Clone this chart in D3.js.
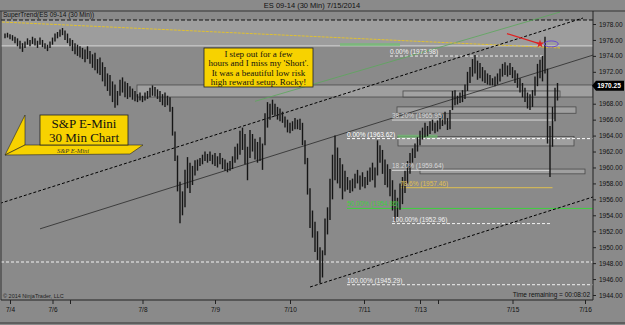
<!DOCTYPE html>
<html><head><meta charset="utf-8">
<script src="https://cdn.jsdelivr.net/npm/d3@7"></script>
<style>body{margin:0;background:#8a8a8a;} svg{display:block;font-family:"Liberation Sans",Arial,sans-serif;}</style>
</head><body><svg id="c" width="625" height="325"></svg>
<script>
// ---- data (30-min bars, [high, low]) ----
const bars = [
[1976.8,1976.2],[1976.9,1976.3],[1976.7,1976.1],[1976.6,1975.9],[1976.4,1975.6],[1976.2,1975.2],[1975.9,1974.9],[1975.6,1974.5],
[1975.8,1975.0],[1976.2,1975.4],[1976.0,1975.2],[1976.4,1975.5],[1976.2,1975.3],[1975.9,1975.0],[1976.3,1975.4],[1976.0,1975.1],
[1975.6,1974.9],[1975.4,1974.6],[1975.8,1975.0],[1976.3,1975.4],[1976.8,1975.8],[1977.0,1976.2],[1977.3,1976.4],[1977.5,1976.6],
[1977.2,1976.0],[1976.8,1975.6],[1976.2,1975.2],[1976.0,1974.6],[1975.6,1974.2],[1975.4,1974.0],[1975.2,1973.8],[1975.0,1973.6],
[1974.8,1973.2],[1975.2,1973.6],[1974.6,1973.0],[1974.2,1972.5],[1974.4,1972.2],[1973.6,1971.8],[1973.8,1971.6],[1973.2,1970.8],
[1972.6,1970.2],[1971.8,1969.6],[1971.6,1969.0],[1970.8,1968.2],[1970.4,1967.5],[1969.6,1967.8],[1971.0,1969.0],[1971.3,1969.4],
[1970.8,1968.8],[1970.6,1968.6],[1970.2,1968.8],[1969.9,1968.5],[1969.6,1968.3],[1969.2,1968.2],[1969.4,1968.4],[1969.0,1968.2],
[1969.4,1968.4],[1969.6,1968.6],[1970.0,1968.8],[1970.3,1969.0],[1970.1,1968.9],[1969.8,1968.6],[1969.6,1968.2],[1969.2,1967.8],
[1969.4,1967.6],[1969.0,1967.8],[1968.8,1967.0],[1967.6,1964.0],[1964.5,1960.8],[1961.5,1957.0],[1958.2,1953.0],[1957.0,1954.0],
[1959.7,1955.0],[1961.3,1957.4],[1960.6,1956.8],[1960.2,1957.8],[1960.9,1959.0],[1961.0,1959.6],[1961.2,1960.2],[1961.6,1960.4],
[1962.0,1960.8],[1961.7,1960.6],[1962.0,1960.8],[1961.6,1960.4],[1961.8,1960.2],[1961.4,1960.0],[1961.8,1960.4],[1961.2,1959.8],
[1961.0,1959.6],[1960.6,1959.4],[1960.8,1959.6],[1961.4,1959.8],[1962.6,1960.6],[1963.0,1961.0],[1964.6,1961.6],[1965.0,1962.2],
[1964.2,1960.4],[1962.6,1958.4],[1964.7,1961.2],[1964.2,1962.0],[1963.6,1961.0],[1963.2,1960.6],[1963.8,1960.8],[1963.0,1959.7],
[1966.8,1962.8],[1968.2,1965.0],[1968.0,1966.0],[1968.5,1966.6],[1968.0,1966.4],[1967.6,1966.0],[1967.4,1965.8],[1967.0,1965.6],
[1966.4,1965.0],[1966.0,1964.4],[1965.6,1964.3],[1965.8,1964.6],[1966.2,1964.8],[1966.0,1964.8],[1966.1,1964.7],[1965.6,1962.8],
[1963.4,1960.4],[1961.2,1956.6],[1957.4,1952.4],[1954.6,1951.2],[1953.2,1949.4],[1952.0,1948.4],[1950.0,1945.5],[1949.6,1946.2],
[1953.6,1949.0],[1955.0,1951.6],[1958.6,1953.4],[1961.6,1956.0],[1964.0,1958.4],[1962.5,1958.0],[1961.2,1957.4],[1960.4,1956.0],
[1959.6,1957.0],[1958.8,1957.2],[1958.4,1956.8],[1958.6,1957.0],[1959.2,1957.4],[1959.7,1958.0],[1959.0,1957.2],[1959.4,1957.6],
[1958.8,1957.4],[1959.6,1957.8],[1960.0,1958.2],[1960.6,1958.4],[1960.0,1957.5],[1963.4,1959.0],[1962.8,1960.6],[1962.2,1959.2],
[1961.0,1957.8],[1960.4,1957.5],[1959.8,1956.4],[1958.4,1954.6],[1957.2,1953.2],[1956.2,1953.8],[1958.0,1954.7],[1958.8,1955.4],
[1959.6,1956.8],[1960.8,1958.0],[1961.8,1959.2],[1962.4,1960.6],[1963.0,1961.2],[1963.8,1962.0],[1964.6,1962.8],[1965.0,1963.5],
[1965.6,1963.8],[1965.2,1963.9],[1965.8,1964.2],[1966.0,1964.6],[1965.6,1964.3],[1965.9,1964.5],[1966.4,1964.8],[1966.8,1965.2],
[1967.0,1965.4],[1966.2,1964.7],[1967.2,1964.8],[1969.6,1967.2],[1969.7,1967.8],[1969.0,1967.9],[1969.4,1968.1],[1969.7,1968.2],
[1970.4,1968.6],[1972.0,1969.6],[1972.6,1970.6],[1973.6,1971.4],[1974.1,1971.8],[1973.4,1971.0],[1973.1,1971.2],[1972.6,1970.8],
[1972.2,1970.6],[1971.8,1970.4],[1971.6,1970.3],[1971.2,1970.3],[1971.4,1970.2],[1971.8,1970.4],[1972.4,1970.8],[1973.0,1971.4],
[1973.2,1971.6],[1972.8,1971.4],[1973.1,1971.6],[1972.6,1971.2],[1972.2,1970.6],[1971.8,1970.0],[1971.2,1969.4],[1970.6,1968.8],
[1970.0,1968.2],[1969.4,1967.4],[1969.2,1967.2],[1969.7,1967.6],[1971.4,1969.0],[1973.0,1970.2],[1973.5,1971.2],[1974.0,1970.8],
[1976.4,1971.8],[1972.4,1963.0],[1965.2,1958.8],[1967.6,1962.6],[1970.0,1965.8],[1970.6,1968.4]
];
const lastClose = 1970.25;
const yTicks = d3.range(1944, 1979, 2).filter(v => Math.abs(v - lastClose) > 1);
const xTickIdx = [2, 19, 26, 55, 84, 114, 143.6, 166, 173.2, 203, 232];
const xTickLabels = ["7/4", "7/6", "", "7/8", "7/9", "7/10", "7/11", "7/13", "", "7/15", "7/16"];
// trend / channel lines: [[idx, price],[idx, price]]
const upperChannel = [[-2, 1955.5], [231.2, 1978.75]];
const lowerChannel = [[122, 1945.0], [235.2, 1956.3]];
const midLine = [[14, 1952.3], [235.2, 1974.1]];
const yellowLine = [[-1.2, 1978.25], [222, 1975.0]];
const greenLine = [[100, 1968.3], [222, 1979.5]];
// zones: [idx0, idx1, priceTop, priceBottom]
const zones = [
  [52.8, 235.2, 1970.35, 1968.84],
  [159.2, 222, 1969.6, 1968.84],
  [156.8, 228.4, 1967.6, 1966.8],
  [157.2, 227.6, 1963.9, 1962.7],
  [166, 232, 1959.8, 1959.2]
];
// fib levels: [idx0, idx1, price, label, colour, dashed]
const fibs = [
  [154, 215.2, 1973.98, "0.00% (1973.98)", "#f2f2f2", true],
  [154.8, 220, 1965.95, "38.20% (1965.95)", "#d8d8d8", false],
  [136.8, 235.2, 1963.62, "0.00% (1963.62)", "#ffffff", true],
  [154.8, 218, 1959.64, "18.20% (1959.64)", "#d8d8d8", false],
  [158, 219, 1957.46, "78.6% (1957.46)", "#e0c050", false],
  [136.8, 238, 1954.86, "50.00% (1954.86)", "#40d040", false],
  [154.8, 218, 1952.96, "100.00% (1952.96)", "#f2f2f2", true],
  [136.8, 235.2, 1945.29, "100.00% (1945.29)", "#f2f2f2", true]
];
const fullDashed = [1948.14];
const noteLines = ["I step out for a few", "hours and I miss my 'Short'.", "It was a beautiful low risk", "high reward setup. Rocky!"];
const badgeLines = ["S&P E-Mini", "30 Min Chart"];

// ---- layout ----
const svg = d3.select("#c");
const plotL = 1, plotR = 593, plotT = 11, plotB = 300;
const x = d3.scaleLinear().domain([0, bars.length - 1]).range([5, 557.5]);
const y = d3.scaleLinear().domain([1944, 1978]).range([295, 24]);

svg.append("rect").attr("width", 625).attr("height", 325).attr("fill", "#8a8a8a");
svg.append("text").attr("x", 312).attr("y", 8).attr("text-anchor", "middle")
  .attr("font-size", 7.5).attr("fill", "#111").text("ES 09-14 (30 Min)  7/15/2014");

const clipId = "pc";
svg.append("clipPath").attr("id", clipId).append("rect")
  .attr("x", plotL).attr("y", plotT).attr("width", plotR - plotL).attr("height", plotB - plotT);
const g = svg.append("g").attr("clip-path", `url(#${clipId})`);

// top light zone
g.append("rect").attr("x", plotL).attr("width", plotR - plotL)
  .attr("y", y(1978.5)).attr("height", y(1975.25) - y(1978.5)).attr("fill", "#9d9d9d");
g.append("line").attr("x1", plotL).attr("x2", plotR).attr("y1", y(1975.25)).attr("y2", y(1975.25))
  .attr("stroke", "#d8d8d8").attr("stroke-width", 1);
g.append("line").attr("x1", plotL).attr("x2", plotR).attr("y1", y(1978.5)).attr("y2", y(1978.5))
  .attr("stroke", "#111").attr("stroke-dasharray", "4,2");

// zones
g.selectAll("rect.zone").data(zones).join("rect").attr("class", "zone")
  .attr("x", d => x(d[0])).attr("width", d => x(d[1]) - x(d[0]))
  .attr("y", d => y(d[2])).attr("height", d => y(d[3]) - y(d[2]))
  .attr("fill", "#a4a4a4").attr("fill-opacity", 0.8).attr("stroke", "#4a4a4a").attr("stroke-width", 0.8);

// green band highlights
g.append("rect").attr("x", x(134)).attr("width", x(158) - x(134)).attr("y", y(1975.6)).attr("height", 3)
  .attr("fill", "#6fbf6f").attr("opacity", 0.7);
g.append("rect").attr("x", x(157)).attr("width", x(173) - x(157)).attr("y", y(1964.1)).attr("height", 3)
  .attr("fill", "#6fbf6f").attr("opacity", 0.7);

// fib lines
fibs.forEach(f => {
  g.append("line").attr("x1", x(f[0])).attr("x2", x(f[1])).attr("y1", y(f[2])).attr("y2", y(f[2]))
    .attr("stroke", f[4]).attr("stroke-width", 1).attr("stroke-dasharray", f[5] ? "3,2" : null);
});
fullDashed.forEach(p => g.append("line").attr("x1", plotL).attr("x2", plotR).attr("y1", y(p)).attr("y2", y(p))
  .attr("stroke", "#f2f2f2").attr("stroke-dasharray", "3,2"));

// trend lines
const line = d3.line().x(d => x(d[0])).y(d => y(d[1]));
g.append("path").attr("d", line(greenLine)).attr("stroke", "#5aa85a").attr("stroke-width", 0.8).attr("fill", "none");
g.append("path").attr("d", line(yellowLine)).attr("stroke", "#e0c030").attr("stroke-width", 1).attr("stroke-dasharray", "3,1").attr("fill", "none");
g.append("path").attr("d", line(midLine)).attr("stroke", "#2a2a2a").attr("stroke-width", 0.8).attr("fill", "none");
[upperChannel, lowerChannel].forEach(c => g.append("path").attr("d", line(c)).attr("stroke", "#000")
  .attr("stroke-width", 1).attr("stroke-dasharray", "3,2").attr("fill", "none"));

// price bars
g.selectAll("line.bar").data(bars).join("line").attr("class", "bar")
  .attr("x1", (d, i) => x(i)).attr("x2", (d, i) => x(i))
  .attr("y1", d => y(d[0])).attr("y2", d => y(d[1]))
  .attr("stroke", "#151515").attr("stroke-width", 1.4);

// fib labels on top
fibs.forEach(f => {
  g.append("text").attr("x", x(f[0])).attr("y", y(f[2]) - 2).attr("font-size", 6.5)
    .attr("fill", f[4]).text(f[3]);
});

// red arrow + ellipse
g.append("line").attr("x1", x(200.8)).attr("y1", y(1976.8)).attr("x2", x(214)).attr("y2", y(1975.5))
  .attr("stroke", "#e02020").attr("stroke-width", 1.2);
g.append("path").attr("d", d3.symbol(d3.symbolStar, 22)()).attr("transform", `translate(${x(214)},${y(1975.5)})`).attr("fill", "#e02020");
g.append("ellipse").attr("cx", x(218.5)).attr("cy", y(1975.5)).attr("rx", 7).attr("ry", 3)
  .attr("fill", "none").attr("stroke", "#6a4ad0").attr("stroke-width", 1);

// note box
const nb = svg.append("g");
nb.append("rect").attr("x", 204).attr("y", 48).attr("width", 109).attr("height", 39)
  .attr("fill", "#f7d200").attr("stroke", "#222").attr("stroke-width", 0.8);
nb.selectAll("text").data(noteLines).join("text").attr("x", 258.5).attr("y", (d, i) => 57 + i * 9.3)
  .attr("text-anchor", "middle").attr("font-family", "Liberation Serif, Times New Roman, serif")
  .attr("font-size", 9).attr("fill", "#111").text(d => d);

// badge
const bg = svg.append("g");
bg.append("path").attr("d", "M5,155 L25,115 L25,145 Z").attr("fill", "#f7d200").attr("stroke", "#222").attr("stroke-width", 0.6);
bg.append("path").attr("d", "M5,155 L25,145 L143,145 L130,154 Z").attr("fill", "#f7d200").attr("stroke", "#222").attr("stroke-width", 0.6);
bg.append("rect").attr("x", 40).attr("y", 115).attr("width", 88).attr("height", 30)
  .attr("fill", "#f7d200").attr("stroke", "#222").attr("stroke-width", 0.8);
bg.selectAll("text.b").data(badgeLines).join("text").attr("class", "b").attr("x", 84).attr("y", (d, i) => 128 + i * 14)
  .attr("text-anchor", "middle").attr("font-family", "Liberation Serif, Times New Roman, serif")
  .attr("font-size", 13).attr("fill", "#111").text(d => d);
bg.append("text").attr("x", 73).attr("y", 153).attr("text-anchor", "middle")
  .attr("font-family", "Liberation Serif, serif").attr("font-style", "italic").attr("font-size", 6.5).attr("fill", "#333").text("S&P E-Mini");

// panel labels
svg.append("text").attr("x", 3).attr("y", 17).attr("font-size", 6.5).attr("fill", "#111").text("SuperTrend(ES 09-14 (30 Min))");
svg.append("text").attr("x", 3).attr("y", 298).attr("font-size", 5.5).attr("fill", "#222").text("© 2014 NinjaTrader, LLC");
svg.append("text").attr("x", 590).attr("y", 297).attr("text-anchor", "end").attr("font-size", 6.5).attr("fill", "#111").text("Time remaining = 00:08:02");

// frame
svg.append("line").attr("x1", 0).attr("x2", 625).attr("y1", plotT).attr("y2", plotT).attr("stroke", "#333");
svg.append("line").attr("x1", plotL).attr("x2", plotL).attr("y1", plotT).attr("y2", plotB).attr("stroke", "#333");
svg.append("line").attr("x1", 0).attr("x2", 625).attr("y1", 323).attr("y2", 323).attr("stroke", "#333");

// axes
const ya = svg.append("g").attr("transform", `translate(${plotR},0)`)
  .call(d3.axisRight(y).tickValues(yTicks).tickFormat(d3.format(".2f")).tickSize(3));
ya.select(".domain").attr("d", `M0,${plotT}V${plotB}`).attr("stroke", "#222");
ya.selectAll("text").attr("font-size", 6.5).attr("fill", "#111").attr("font-family", "Liberation Sans, Arial");
ya.selectAll("line").attr("stroke", "#222");

const xa = svg.append("g").attr("transform", `translate(0,${plotB})`)
  .call(d3.axisBottom(x).tickValues(xTickIdx).tickFormat((d, i) => xTickLabels[i]).tickSize(4));
xa.select(".domain").attr("d", `M${plotL},0H${plotR}`).attr("stroke", "#222");
xa.selectAll("text").attr("font-size", 6.5).attr("fill", "#111").attr("font-family", "Liberation Sans, Arial");
xa.selectAll("line").attr("stroke", "#222");

// last price tag
const ty = y(lastClose);
svg.append("path").attr("d", `M${plotR - 1},${ty} L${plotR + 3},${ty - 5} H624 V${ty + 5} H${plotR + 3} Z`).attr("fill", "#000");
svg.append("text").attr("x", 609).attr("y", ty + 2.5).attr("text-anchor", "middle").attr("font-size", 6.5)
  .attr("font-weight", "bold").attr("fill", "#fff").text(d3.format(".2f")(lastClose));
</script></body></html>
